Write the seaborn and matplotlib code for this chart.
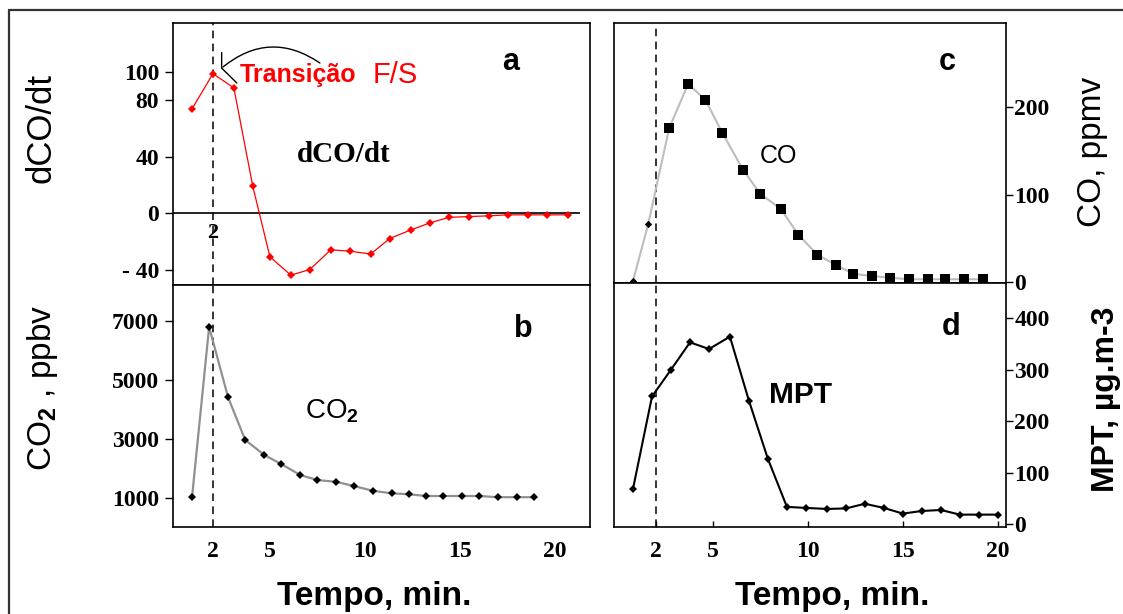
import matplotlib
matplotlib.use("Agg")
import matplotlib.pyplot as plt
import seaborn as sns
from matplotlib.lines import Line2D

# ---------------- data ----------------
# panel a : dCO/dt
t_dco = [0.9, 2.0, 3.1, 4.1, 5.0, 6.1, 7.1, 8.2, 9.2, 10.3,
         11.3, 12.4, 13.4, 14.4, 15.5, 16.5, 17.5, 18.6, 19.6, 20.7]
dco_dt = [74, 99, 89, 19, -31, -44, -40, -26, -27, -29,
          -18, -12, -7, -3, -2.4, -1.9, -1.2, -1.2, -1.2, -1.2]

# panel b : CO2, ppbv
t_co2 = [0.9, 1.8, 2.8, 3.7, 4.7, 5.6, 6.6, 7.5, 8.5, 9.4,
         10.4, 11.4, 12.3, 13.2, 14.1, 15.1, 16.0, 17.0, 18.0, 18.9]
co2 = [1020, 6800, 4410, 2970, 2460, 2150, 1780, 1610, 1550, 1410,
       1250, 1160, 1130, 1070, 1070, 1070, 1070, 1030, 1030, 1030]

# panel c : CO, ppmv
t_co = [0.8, 1.6, 2.7, 3.7, 4.6, 5.5, 6.6, 7.5, 8.6, 9.5,
        10.5, 11.5, 12.4, 13.4, 14.3, 15.3, 16.3, 17.2, 18.2, 19.2]
co = [1, 66, 176, 227, 209, 171, 128, 101, 83, 54,
      31, 19, 9, 6.5, 4.6, 2.8, 2.8, 2.8, 2.8, 2.8]

# panel d : MPT, ug/m3
t_mpt = [0.8, 1.8, 2.8, 3.8, 4.8, 5.9, 6.9, 7.9, 8.9, 9.9,
         11.0, 12.0, 13.0, 14.0, 15.0, 16.0, 17.0, 18.0, 19.0, 20.0]
mpt = [69, 248, 300, 353, 340, 364, 240, 127, 34, 32,
       30, 31, 40, 32, 21, 26, 28, 19, 19, 19]

transition_t = 2
x_ticks = [2, 5, 10, 15, 20]
y_ticks_a = [-40, 0, 40, 80, 100]
y_labels_a = ["- 40", "0", "40", "80", "100"]
y_ticks_b = [1000, 3000, 5000, 7000]
y_ticks_c = [0, 100, 200]
y_ticks_d = [0, 100, 200, 300, 400]

# ---------------- style ----------------
sns.set_style("ticks")
plt.rcParams["font.family"] = ["Liberation Serif", "DejaVu Serif"]
plt.rcParams["font.weight"] = "bold"
plt.rcParams["mathtext.fontset"] = "custom"
plt.rcParams["mathtext.rm"] = "Liberation Sans"
plt.rcParams["mathtext.it"] = "Liberation Sans:italic"
plt.rcParams["mathtext.bf"] = "Liberation Sans:bold"
plt.rcParams["axes.linewidth"] = 1.2
plt.rcParams["axes.edgecolor"] = "black"
for key in ("text.color", "axes.labelcolor", "xtick.color", "ytick.color"):
    plt.rcParams[key] = "black"

SANS = ["Liberation Sans", "DejaVu Sans"]
TICK_FS = 17
W, H = 1123, 614
fig = plt.figure(figsize=(W / 100, H / 100), dpi=100)


def box(l, t, r, b):
    return [l / W, 1 - b / H, (r - l) / W, (b - t) / H]


ax_a = fig.add_axes(box(173, 23, 590, 285))
ax_b = fig.add_axes(box(173, 285, 590, 527))
ax_c = fig.add_axes(box(614, 23, 1006, 283))
ax_d = fig.add_axes(box(614, 283, 1006, 527))

for ax in (ax_a, ax_b, ax_c, ax_d):
    for s in ax.spines.values():
        s.set_linewidth(1.2)
        s.set_color("black")

dash = (0, (5, 3.5))
left_tick_kw = dict(axis="y", direction="out", length=6, width=1, pad=4,
                    labelsize=TICK_FS, colors="black")
right_tick_kw = dict(axis="y", left=False, right=True, labelleft=False, labelright=True,
                     direction="out", length=5, width=1, pad=1, labelsize=TICK_FS,
                     colors="black")

# ---------------- panel a ----------------
ax_a.hlines(0, -0.1, 21.3, color="black", lw=1.2, zorder=1)
ax_a.axvline(transition_t, color="black", ls=dash, lw=1.1, zorder=1)
sns.lineplot(x=t_dco, y=dco_dt, ax=ax_a, color="red", lw=0.9, marker="D",
             markersize=4, markeredgewidth=0, zorder=3)
ax_a.set_xlim(-0.1, 21.84)
ax_a.set_ylim(-51, 135)
ax_a.set_yticks(y_ticks_a)
ax_a.set_yticklabels(y_labels_a)
ax_a.tick_params(**left_tick_kw)
ax_a.tick_params(axis="x", length=0, labelbottom=False)
ax_a.set_xlabel("")
ax_a.set_ylabel("")
ax_a.annotate("2", xy=(transition_t, 0), xytext=(0, -14), textcoords="offset points",
              ha="center", va="center", fontsize=16, fontweight="bold")
ax_a.text(0.81, 0.85, "a", transform=ax_a.transAxes, ha="center", va="center",
          fontsize=22, fontweight="bold", family=SANS)
ax_a.text(0.41, 0.50, "dCO/dt", transform=ax_a.transAxes, ha="center", va="center",
          fontsize=21, fontweight="bold")
ax_a.text(0.16, 0.80, "Transição", transform=ax_a.transAxes, ha="left", va="center",
          fontsize=18, fontweight="bold", color="red", family=SANS)
ax_a.text(0.478, 0.80, "F/S", transform=ax_a.transAxes, ha="left", va="center",
          fontsize=21, fontweight="normal", color="red", family=SANS)
# bracket pointing at the transition
line_kw = dict(arrowstyle="-", color="black", lw=1.0, shrinkA=0, shrinkB=0)
ax_a.annotate("", xy=(2.53, 103.8), xytext=(7.63, 106.6),
              arrowprops=dict(connectionstyle="arc3,rad=0.37", **line_kw))
ax_a.annotate("", xy=(2.46, 103), xytext=(2.46, 114), arrowprops=line_kw)
ax_a.annotate("", xy=(3.26, 92.4), xytext=(2.46, 103), arrowprops=line_kw)

# ---------------- panel b ----------------
ax_b.axvline(transition_t, color="black", ls=dash, lw=1.1, zorder=1)
sns.lineplot(x=t_co2, y=co2, ax=ax_b, color="#909090", lw=1.6, marker="D",
             markersize=4.5, markerfacecolor="black", markeredgewidth=0, zorder=3)
ax_b.set_xlim(-0.1, 21.84)
ax_b.set_ylim(20, 8220)
ax_b.set_yticks(y_ticks_b)
ax_b.set_xticks(x_ticks)
ax_b.tick_params(**left_tick_kw)
ax_b.tick_params(axis="x", length=0, pad=10, labelsize=TICK_FS, colors="black")
ax_b.set_xlabel("")
ax_b.set_ylabel("")
ax_b.text(0.84, 0.82, "b", transform=ax_b.transAxes, ha="center", va="center",
          fontsize=22, fontweight="bold", family=SANS)
ax_b.text(0.38, 0.48, "CO$_2$", transform=ax_b.transAxes, ha="center", va="center",
          fontsize=20, fontweight="normal", family=SANS)

# ---------------- panel c ----------------
ax_c.axvline(transition_t, color="black", ls=dash, lw=1.1, zorder=1)
sns.lineplot(x=t_co, y=co, ax=ax_c, color="#bdbdbd", lw=1.5, zorder=2)
n_small = 2
sns.scatterplot(x=t_co[:n_small], y=co[:n_small], ax=ax_c, color="black",
                marker="D", s=14, linewidth=0, zorder=3)
sns.scatterplot(x=t_co[n_small:], y=co[n_small:], ax=ax_c, color="black",
                marker="s", s=42, linewidth=0, zorder=3)
ax_c.set_xlim(-0.2, 20.43)
ax_c.set_ylim(-1.5, 297)
ax_c.set_yticks(y_ticks_c)
ax_c.yaxis.tick_right()
ax_c.tick_params(**right_tick_kw)
ax_c.tick_params(axis="x", length=0, labelbottom=False)
ax_c.set_xlabel("")
ax_c.set_ylabel("")
ax_c.text(0.85, 0.85, "c", transform=ax_c.transAxes, ha="center", va="center",
          fontsize=22, fontweight="bold", family=SANS)
ax_c.text(0.42, 0.49, "CO", transform=ax_c.transAxes, ha="center", va="center",
          fontsize=18, fontweight="normal", family=SANS)

# ---------------- panel d ----------------
ax_d.axvline(transition_t, color="black", ls=dash, lw=1.1, zorder=1)
sns.lineplot(x=t_mpt, y=mpt, ax=ax_d, color="black", lw=1.5, marker="D",
             markersize=4, markeredgewidth=0, zorder=3)
ax_d.set_xlim(-0.2, 20.43)
ax_d.set_ylim(-5, 468)
ax_d.set_yticks(y_ticks_d)
ax_d.set_xticks(x_ticks)
ax_d.yaxis.tick_right()
ax_d.tick_params(**right_tick_kw)
ax_d.tick_params(axis="x", direction="in", length=4, width=1, pad=10,
                 labelsize=TICK_FS, colors="black")
ax_d.set_xlabel("")
ax_d.set_ylabel("")
ax_d.text(0.86, 0.82, "d", transform=ax_d.transAxes, ha="center", va="center",
          fontsize=22, fontweight="bold", family=SANS)
ax_d.text(0.475, 0.54, "MPT", transform=ax_d.transAxes, ha="center", va="center",
          fontsize=21.5, fontweight="bold", family=SANS)

# ---------------- axis titles ----------------
fig.text(41 / W, 1 - 128 / H, "dCO/dt", rotation=90, ha="center", va="center",
         fontsize=25, fontweight="normal", family=SANS)
fig.text(42 / W, 1 - 388 / H, "CO$_2$ , ppbv", rotation=90, ha="center", va="center",
         fontsize=24, fontweight="normal", family=SANS)
fig.text(1092 / W, 1 - 152 / H, "CO, ppmv", rotation=90, ha="center", va="center",
         fontsize=24, fontweight="normal", family=SANS)
fig.text(1106 / W, 1 - 399 / H, "MPT, µg.m-3", rotation=90, ha="center", va="center",
         fontsize=23, fontweight="bold", family=SANS)
fig.text(374 / W, 1 - 597 / H, "Tempo, min.", ha="center", va="center",
         fontsize=24, fontweight="bold", family=SANS)
fig.text(832 / W, 1 - 597 / H, "Tempo, min.", ha="center", va="center",
         fontsize=24, fontweight="bold", family=SANS)

# ---------------- outer frame ----------------
fx, fy = 9 / W, 1 - 10 / H
fig.add_artist(Line2D([fx, 1], [fy, fy], transform=fig.transFigure, color="#333333", lw=1.6))
fig.add_artist(Line2D([fx, fx], [0, fy], transform=fig.transFigure, color="#333333", lw=1.6))

fig.savefig("out.png", dpi=100)
